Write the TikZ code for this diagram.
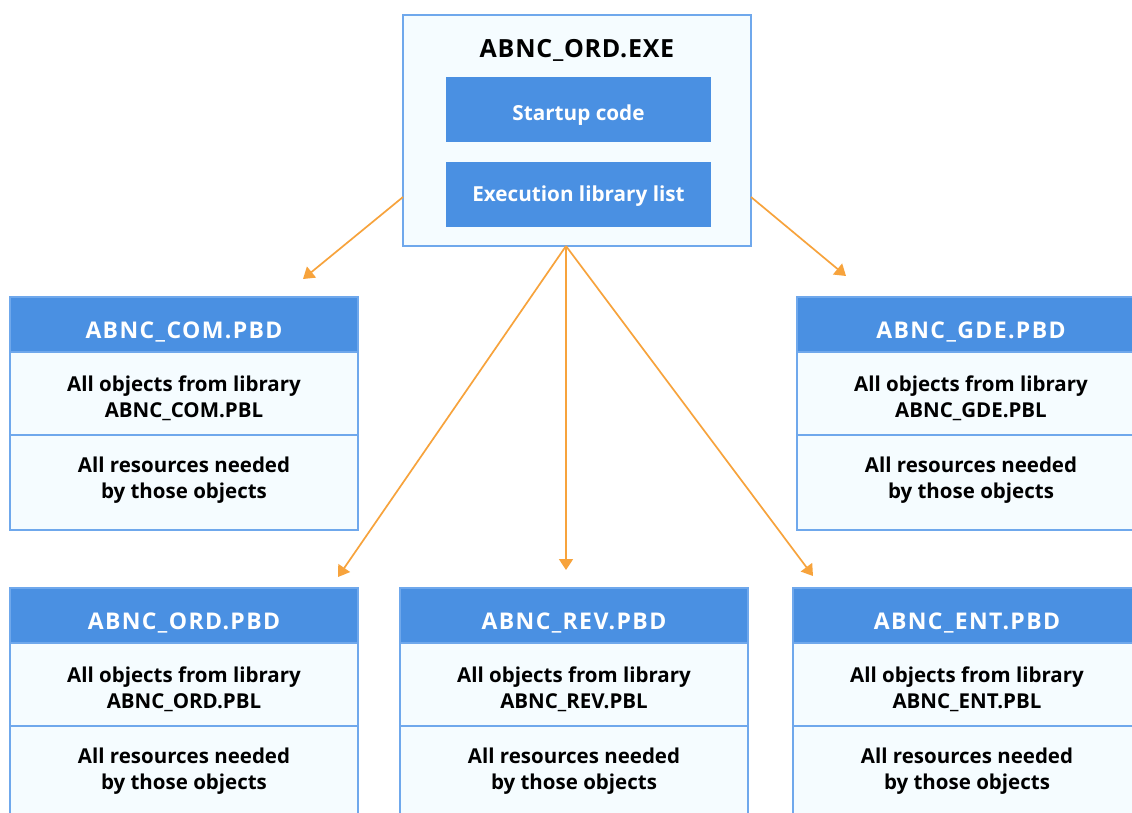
\documentclass[tikz,border=0pt]{standalone}
\usepackage{fontspec}
\setmainfont{Open Sans}
\usetikzlibrary{arrows.meta,calc}
\definecolor{hblue}{HTML}{4A90E2}
\definecolor{lfill}{HTML}{F5FCFF}
\definecolor{bord}{HTML}{6FA8EC}
\definecolor{arr}{HTML}{F7A33C}
\newcommand{\pbdbox}[6]{%
  \node[hdr] (#1h) at (#2,#3) {};
  \node[cell, minimum height=83pt] (#1a) at (#2,#3+55) {};
  \node[cell, minimum height=#6] (#1b) at (#2,#3+138) {};
  \node[htxt] (#1ht) at ($(#1h.north)+(0,41)$) {#4};
  \node[btxt] (#1a1) at ($(#1a.north)+(0,39)$) {All objects from library};
  \node[btxt] (#1a2) at ($(#1a.north)+(0,65)$) {#5};
  \node[btxt] (#1b1) at ($(#1b.north)+(0,37.5)$) {All resources needed};
  \node[btxt] (#1b2) at ($(#1b.north)+(0,63.5)$) {by those objects};
}
\begin{document}
\begin{tikzpicture}[x=1pt,y=-1pt,
  every node/.style={inner sep=0pt, outer sep=0pt},
  frame/.style={draw=bord, line width=1.2pt, fill=lfill, rectangle, anchor=north west},
  hdr/.style={draw=bord, line width=1.2pt, fill=hblue, rectangle, anchor=north west, minimum width=348pt, minimum height=55pt},
  cell/.style={draw=bord, line width=1.2pt, fill=lfill, rectangle, anchor=north west, minimum width=348pt},
  inbox/.style={fill=hblue, rectangle, anchor=north west, minimum width=265pt, minimum height=65pt},
  htxt/.style={anchor=base, text=white, font=\fontsize{23}{28}\selectfont\bfseries\addfontfeature{LetterSpace=6}},
  ttxt/.style={anchor=base, text=black, font=\fontsize{25}{30}\selectfont\bfseries\addfontfeature{LetterSpace=3}},
  btxt/.style={anchor=base, text=black, font=\fontsize{20.5}{26}\selectfont\bfseries},
  itxt/.style={anchor=base, text=white, font=\fontsize{20.7}{26}\selectfont\bfseries},
  link/.style={draw=arr, line width=1.7pt, -{Triangle[length=11pt,width=14pt]}}
]
\useasboundingbox (0,0) rectangle (1132,812);
\clip (0,0) rectangle (1132,812);
\fill[white] (0,0) rectangle (1132,812);

% top box
\node[frame, minimum width=348pt, minimum height=231pt] (exe) at (403,15) {};
\node[ttxt] (exet) at (577,57) {ABNC\_ORD.EXE};
\node[inbox] (start) at (446,77) {};
\node[inbox] (exlist) at (446,162) {};
\node[itxt] (startt) at ($(start.north)+(0,43)$) {Startup code};
\node[itxt] (exlistt) at ($(exlist.north)+(0,39.5)$) {Execution library list};

\pbdbox{com}{10}{297}{ABNC\_COM.PBD}{ABNC\_COM.PBL}{95pt}
\pbdbox{gde}{797}{297}{ABNC\_GDE.PBD}{ABNC\_GDE.PBL}{95pt}
\pbdbox{ord}{10}{588}{ABNC\_ORD.PBD}{ABNC\_ORD.PBL}{100pt}
\pbdbox{rev}{400}{588}{ABNC\_REV.PBD}{ABNC\_REV.PBL}{100pt}
\pbdbox{ent}{793}{588}{ABNC\_ENT.PBD}{ABNC\_ENT.PBL}{100pt}

% connector points
\coordinate (sl) at (403,197);
\coordinate (sr) at (751,197);
\coordinate (sb) at (566,246);
\coordinate (tcom) at (303,279);
\coordinate (tgde) at (846,276);
\coordinate (tord) at (338,577);
\coordinate (trev) at (566,570);
\coordinate (tent) at (813,576);

\draw[link] (sl) -- (tcom);
\draw[link] (sr) -- (tgde);
\draw[link] (sb) -- (tord);
\draw[link] (sb) -- (trev);
\draw[link] (sb) -- (tent);
\end{tikzpicture}
\end{document}
